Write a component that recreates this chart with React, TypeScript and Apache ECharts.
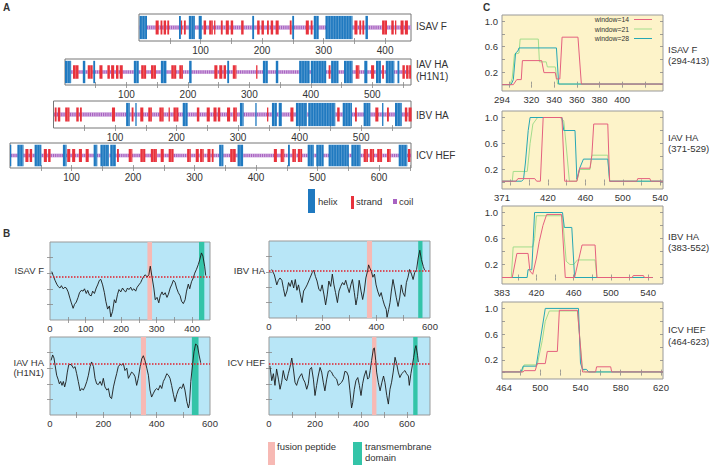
import React, { useEffect, useRef } from "react";
import * as echarts from "echarts";

const FONT = "'Liberation Sans', Arial, Helvetica, sans-serif";

// ---------------- Panel A: secondary structure ----------------
const ssNames = ["ISAV F", "IAV HA", "IBV HA", "ICV HEF"];
const ssLengths = [442, 563, 581, 652];
const ssTickLabels = [
  [100, 200, 300, 400],
  [100, 200, 300, 400, 500],
  [100, 200, 300, 400, 500],
  [100, 200, 300, 400, 500, 600],
];
const ssTicks = [
  [50, 100, 150, 200, 250, 300, 350, 400],
  [50, 100, 150, 200, 250, 300, 350, 400, 450, 500, 550],
  [50, 100, 150, 200, 250, 300, 350, 400, 450, 500, 550],
  [50, 100, 150, 200, 250, 300, 350, 400, 450, 500, 550, 600, 650],
];
const isavHelix = [[1, 13], [65, 68], [81, 91], [97, 102], [184, 187], [249, 252], [284, 292], [303, 347], [368, 372]];
const isavStrand = [[27, 32], [35, 38], [40, 44], [46, 49], [68, 70], [73, 76], [105, 109], [114, 120], [122, 124], [133, 136], [141, 146], [149, 153], [166, 170], [192, 196], [199, 203], [208, 211], [214, 218], [222, 227], [245, 248], [271, 276], [279, 282], [350, 355], [358, 361], [363, 366], [395, 403], [410, 414], [416, 418], [425, 430], [432, 437]];
const iavHelix = [[0, 10], [29, 33], [46, 49], [112, 120], [156, 165], [202, 206], [264, 267], [322, 330], [343, 347], [381, 398], [400, 425], [433, 445], [454, 468], [487, 492], [506, 514], [522, 536], [541, 544]];
const iavStrand = [[13, 22], [37, 45], [56, 61], [69, 73], [75, 80], [83, 87], [89, 94], [124, 132], [140, 148], [173, 181], [186, 192], [243, 248], [251, 256], [258, 262], [273, 279], [311, 313], [429, 432], [473, 479], [498, 503], [516, 519], [549, 553], [555, 559], [560, 563]];
const ibvHelix = [[118, 124], [133, 135], [210, 218], [303, 309], [328, 330], [355, 363], [366, 371], [394, 412], [414, 458], [470, 485], [504, 515], [534, 536], [555, 566]];
const ibvStrand = [[2, 5], [7, 11], [19, 26], [37, 41], [43, 46], [95, 100], [127, 130], [141, 146], [154, 160], [172, 179], [187, 189], [195, 203], [233, 237], [249, 254], [260, 265], [267, 271], [282, 287], [292, 298], [347, 349], [385, 390], [461, 465], [490, 493], [523, 528], [542, 545], [571, 575], [577, 582]];
const icvHelix = [[0, 2], [12, 22], [40, 51], [86, 92], [136, 142], [147, 161], [163, 172], [340, 347], [370, 379], [452, 455], [484, 494], [498, 510], [518, 551], [555, 570], [632, 646]];
const icvStrand = [[25, 30], [32, 36], [55, 60], [62, 66], [93, 98], [101, 106], [112, 117], [123, 128], [174, 177], [193, 199], [212, 220], [229, 239], [245, 250], [258, 266], [288, 294], [302, 307], [309, 315], [321, 326], [328, 331], [358, 367], [429, 434], [440, 446], [459, 465], [468, 475], [575, 582], [585, 592], [597, 605], [613, 619], [647, 651]];
const ssHelix = [isavHelix, iavHelix, ibvHelix, icvHelix];
const ssStrand = [isavStrand, iavStrand, ibvStrand, icvStrand];

// ---------------- Panel B: hydrophobicity ----------------
const isavHydro = [[5, 62], [9, 57], [14, 51], [19, 46], [23, 43], [28, 41], [32, 44], [37, 40], [42, 42], [46, 41], [51, 36], [56, 28], [60, 22], [65, 15], [69, 20], [74, 23], [79, 29], [83, 35], [88, 38], [93, 37], [97, 40], [102, 34], [106, 38], [111, 32], [116, 31], [120, 37], [125, 34], [130, 41], [134, 45], [139, 51], [143, 52], [148, 45], [153, 35], [157, 24], [162, 14], [167, 18], [171, 4], [176, 11], [181, 26], [185, 22], [190, 33], [194, 39], [199, 36], [204, 41], [208, 38], [213, 36], [218, 41], [222, 39], [227, 42], [231, 38], [236, 40], [241, 37], [245, 42], [250, 45], [255, 48], [259, 52], [264, 56], [268, 58], [273, 55], [278, 58], [282, 69], [287, 55], [292, 41], [296, 26], [301, 29], [306, 22], [310, 31], [315, 36], [319, 32], [324, 35], [329, 29], [333, 33], [338, 41], [343, 46], [347, 51], [352, 48], [356, 41], [361, 35], [366, 31], [370, 24], [375, 21], [380, 26], [384, 37], [389, 46], [393, 40], [398, 49], [403, 54], [407, 60], [412, 65], [417, 71], [421, 77], [426, 86], [430, 82], [435, 69], [438, 57]];
const ibvHydro = [[10, 63], [20, 56], [29, 43], [35, 49], [41, 52], [48, 49], [54, 38], [60, 28], [67, 35], [73, 46], [79, 41], [85, 49], [92, 39], [98, 50], [104, 36], [110, 43], [117, 30], [123, 20], [129, 35], [136, 39], [142, 43], [148, 48], [154, 53], [161, 59], [167, 62], [173, 54], [179, 48], [186, 37], [192, 35], [198, 43], [205, 30], [211, 17], [217, 30], [223, 48], [230, 41], [236, 57], [242, 43], [248, 33], [255, 20], [261, 35], [267, 41], [274, 46], [280, 43], [286, 49], [292, 41], [299, 33], [305, 43], [311, 50], [318, 33], [324, 17], [330, 28], [336, 49], [343, 35], [349, 24], [355, 35], [361, 52], [368, 62], [371, 69], [377, 64], [382, 60], [387, 53], [393, 57], [399, 43], [405, 35], [412, 28], [418, 33], [424, 24], [430, 17], [437, 11], [440, 1], [446, 11], [451, 20], [456, 35], [462, 50], [468, 39], [474, 27], [481, 15], [487, 26], [493, 43], [499, 33], [506, 28], [512, 46], [518, 53], [524, 63], [531, 57], [537, 50], [543, 59], [550, 63], [556, 78], [562, 88], [568, 76], [575, 67], [580, 62]];
const iavHydro = [[4, 70], [10, 77], [15, 73], [19, 64], [25, 51], [31, 45], [35, 40], [40, 43], [45, 38], [50, 43], [55, 36], [60, 43], [65, 55], [70, 64], [75, 65], [81, 64], [88, 60], [94, 62], [100, 53], [106, 43], [113, 31], [119, 34], [125, 32], [131, 36], [138, 43], [144, 51], [150, 62], [156, 68], [163, 62], [169, 47], [175, 40], [181, 39], [188, 43], [194, 38], [200, 47], [206, 36], [213, 32], [219, 34], [225, 23], [231, 21], [238, 36], [244, 45], [250, 53], [256, 62], [263, 65], [269, 64], [275, 66], [281, 57], [288, 60], [294, 47], [300, 51], [306, 55], [313, 53], [319, 49], [325, 38], [331, 47], [338, 62], [344, 72], [350, 76], [356, 70], [363, 60], [369, 51], [375, 32], [381, 23], [388, 28], [394, 32], [400, 34], [406, 32], [413, 38], [419, 34], [425, 43], [431, 47], [438, 53], [444, 51], [450, 47], [456, 38], [463, 26], [469, 17], [475, 26], [481, 32], [488, 36], [494, 34], [500, 40], [506, 32], [513, 17], [519, 9], [523, 15], [528, 43], [535, 66], [540, 81], [546, 91], [553, 89], [559, 77], [565, 67]];
const icvHydro = [[4, 63], [12, 44], [19, 53], [26, 38], [33, 59], [41, 46], [48, 33], [55, 42], [62, 57], [70, 46], [77, 44], [84, 53], [91, 61], [99, 73], [106, 59], [113, 42], [120, 38], [128, 46], [135, 50], [142, 53], [149, 46], [156, 42], [164, 33], [171, 40], [178, 59], [185, 61], [193, 46], [200, 25], [207, 38], [214, 50], [222, 61], [229, 55], [236, 42], [243, 31], [251, 46], [258, 56], [265, 57], [272, 55], [280, 50], [287, 48], [294, 46], [301, 38], [309, 40], [316, 42], [323, 46], [330, 56], [338, 55], [345, 50], [352, 31], [359, 9], [364, 16], [371, 33], [378, 44], [386, 48], [393, 38], [400, 25], [407, 40], [414, 50], [422, 57], [429, 46], [435, 48], [440, 57], [446, 70], [454, 85], [458, 86], [464, 70], [468, 55], [475, 42], [483, 31], [491, 42], [498, 50], [504, 42], [512, 25], [519, 14], [526, 33], [533, 42], [540, 55], [548, 74], [555, 66], [562, 55], [569, 48], [577, 53], [584, 55], [591, 57], [598, 53], [606, 50], [610, 38], [617, 53], [623, 63], [629, 74], [635, 85], [639, 89], [646, 76], [649, 68]];
const hydroNames = ["ISAV F", "IBV HA", "IAV HA", "ICV HEF"];
const hydroSeries = [isavHydro, ibvHydro, iavHydro, icvHydro];
const hydroMax = [450, 600, 600, 700];
const hydroThreshold = [55, 62, 66, 66];
const fusionPeptide = [[274, 287], [365, 384], [341, 360], [448, 467]];
const transmembrane = [[419, 434], [556, 572], [532, 557], [627, 646]];
const hydroTickLabels = [[0, 100, 200, 300, 400], [0, 200, 400, 600], [0, 200, 400, 600], [0, 200, 400, 600]];
const hydroTicks = [
  [50, 100, 150, 200, 250, 300, 350, 400],
  [100, 200, 300, 400, 500],
  [100, 200, 300, 400, 500],
  [100, 200, 300, 400, 500, 600],
];

// ---------------- Panel C: window plots ----------------
const windowNames = ["window=14", "window=21", "window=28"];
const cTitles = [["ISAV F", "(294-413)"], ["IAV HA", "(371-529)"], ["IBV HA", "(383-552)"], ["ICV HEF", "(464-623)"]];
const cRanges = [[294, 436], [371, 543], [383, 556], [462, 622]];
const cTickLabels = [[294, 320, 340, 360, 380, 400], [371, 420, 460, 500, 540], [383, 420, 460, 500, 540], [464, 500, 540, 580, 620]];
const cTicks = [[300, 320, 340, 360, 380, 400, 420], [380, 400, 420, 440, 460, 480, 500, 520, 540], [400, 420, 440, 460, 480, 500, 520, 540], [480, 500, 520, 540, 560, 580, 600, 620]];
const cYLabels = [0.2, 0.6, 1.0];
const cYTicks = [0, 0.2, 0.4, 0.6, 0.8, 1.0];
const cIsav14 = [[294, 0], [304, 0], [307, 0.08], [311, 0.08], [312, 0.38], [329, 0.38], [331, 0.19], [341, 0.19], [342, 0.09], [345, 0.09], [347, 0.75], [361, 0.75], [364, 0.01], [436, 0.01]];
const cIsav21 = [[294, 0], [301, 0], [303, 0.1], [305, 0.48], [309, 0.5], [310, 0.72], [326, 0.72], [327, 0.36], [333, 0.36], [334, 0.28], [341, 0.28], [343, 0.01], [436, 0.01]];
const cIsav28 = [[294, 0], [302, 0], [304, 0.08], [306, 0.5], [308, 0.53], [309, 0.58], [342, 0.58], [344, 0.01], [436, 0.01]];
const cIav14 = [[371, 0.02], [386, 0.02], [388, 0.06], [406, 0.06], [408, 0.02], [412, 0.02], [415, 1.0], [435, 1.0], [438, 0.02], [451, 0.02], [454, 0.22], [465, 0.22], [467, 0.42], [469, 0.9], [484, 0.9], [486, 0.02], [515, 0.02], [516, 0.06], [529, 0.06], [530, 0.02], [543, 0.02]];
const cIav21 = [[371, 0.02], [382, 0.02], [383, 0.17], [398, 0.17], [401, 0.6], [404, 0.9], [409, 1.0], [433, 1.0], [437, 0.95], [440, 0.5], [443, 0.02], [451, 0.02], [454, 0.2], [465, 0.2], [467, 0.42], [484, 0.42], [486, 0.02], [543, 0.02]];
const cIav28 = [[371, 0.02], [392, 0.02], [394, 0.05], [396, 0.3], [399, 0.8], [401, 1.0], [435, 1.0], [437, 0.8], [449, 0.8], [451, 0.05], [454, 0.22], [458, 0.36], [484, 0.36], [486, 0.02], [543, 0.02]];
const cIbv14 = [[383, 0], [394, 0], [399, 0.37], [411, 0.37], [413, 0.1], [416, 0.05], [420, 0.3], [423, 0.55], [427, 0.8], [431, 0.97], [447, 0.97], [451, 0], [461, 0], [469, 0.5], [483, 0.5], [485, 0], [523, 0], [524, 0.03], [535, 0.03], [536, 0], [545, 0]];
const cIbv21 = [[383, 0], [393, 0], [395, 0.47], [416, 0.47], [418, 0.6], [420, 0.95], [448, 0.95], [452, 0.25], [456, 0.2], [460, 0.2], [464, 0.27], [483, 0.27], [485, 0], [545, 0]];
const cIbv28 = [[383, 0], [410, 0], [411, 0.12], [415, 0.12], [418, 1.0], [448, 1.0], [450, 0.77], [458, 0.77], [461, 0], [545, 0]];
const cIcv14 = [[462, 0.01], [483, 0.01], [484, 0.03], [495, 0.03], [497, 0.14], [505, 0.14], [507, 0.33], [517, 0.33], [519, 0.97], [537, 0.97], [542, 0.01], [555, 0.01], [556, 0.09], [570, 0.09], [571, 0.01], [622, 0.01]];
const cIcv21 = [[462, 0.01], [482, 0.01], [484, 0.12], [497, 0.12], [502, 0.5], [505, 0.8], [509, 0.96], [537, 0.96], [542, 0.05], [545, 0.01], [622, 0.01]];
const cIcv28 = [[462, 0.01], [481, 0.01], [483, 0.1], [496, 0.1], [498, 0.3], [505, 1.0], [538, 1.0], [540, 0.15], [542, 0.05], [546, 0.05], [548, 0.01], [622, 0.01]];
const cSeries = [[cIsav14, cIsav21, cIsav28], [cIav14, cIav21, cIav28], [cIbv14, cIbv21, cIbv28], [cIcv14, cIcv21, cIcv28]];

// ---------------- styling / layout ----------------
const HELIX = "#1f79c0";
const STRAND = "#e8323c";
const COIL = "#a862c2";
const B_BG = "#b8e6f7";
const PINK = "#f7b9b4";
const TEAL = "#33c4a8";
const C_BG = "#fdf3c9";
const WIN_COLORS = ["#e4607e", "#a3dc8c", "#27a7b4"];
const TXT = "#333";

const aBoxes = [
  { l: 139, t: 14, w: 272, h: 27 },
  { l: 65, t: 59, w: 346, h: 26 },
  { l: 53.5, t: 101, w: 357.5, h: 27 },
  { l: 10, t: 143, w: 401, h: 25 },
];
const bBoxes = [
  { l: 50, t: 242, w: 160, h: 78 },
  { l: 269, t: 241, w: 161, h: 77 },
  { l: 50, t: 337, w: 160, h: 78 },
  { l: 269, t: 337, w: 161, h: 78 },
];
const cBoxes = [
  { l: 502, t: 15, w: 161, h: 76 },
  { l: 502, t: 111, w: 161, h: 78 },
  { l: 502, t: 206, w: 161, h: 78 },
  { l: 502, t: 302, w: 161, h: 77 },
];

function buildOption() {
  const grids: any[] = [];
  const xAxes: any[] = [];
  const yAxes: any[] = [];
  const series: any[] = [];

  const tickStyle = { show: true, inside: true, length: 3, lineStyle: { color: "#888", width: 0.8 } };
  const lbl = (size: number) => ({ fontSize: size, color: TXT, fontFamily: FONT });

  function addGrid(box: any, bg: string, border: string, x: any, y: any) {
    const gi = grids.length;
    grids.push({
      left: box.l, top: box.t, width: box.w, height: box.h, show: true,
      backgroundColor: bg, borderColor: border, borderWidth: 1, containLabel: false, outerBoundsMode: "none",
    });
    const xi = xAxes.length;
    xAxes.push({
      gridIndex: gi, type: "value", position: "bottom", min: x.min, max: x.max,
      axisLine: { show: false }, splitLine: { show: false },
      axisTick: { ...tickStyle, customValues: x.ticks },
      axisLabel: { show: true, customValues: x.labels, margin: x.margin, ...lbl(x.size) },
    });
    xAxes.push({
      gridIndex: gi, type: "value", position: "top", min: x.min, max: x.max,
      axisLine: { show: false }, splitLine: { show: false },
      axisTick: { ...tickStyle, customValues: x.ticks }, axisLabel: { show: false },
    });
    const yi = yAxes.length;
    yAxes.push({
      gridIndex: gi, type: "value", position: "left", min: y.min, max: y.max,
      axisLine: { show: false }, splitLine: { show: false },
      axisTick: y.ticks ? { ...tickStyle, customValues: y.ticks } : { show: false },
      axisLabel: y.labels ? { show: true, customValues: y.labels, margin: 4, formatter: (v: number) => v.toFixed(1), ...lbl(9.5) } : { show: false },
    });
    yAxes.push({
      gridIndex: gi, type: "value", position: "right", min: y.min, max: y.max,
      axisLine: { show: false }, splitLine: { show: false },
      axisTick: y.ticks ? { ...tickStyle, customValues: y.ticks } : { show: false },
      axisLabel: { show: false },
    });
    return { xi, yi };
  }

  // ---- Panel A
  const ssRender = (kind: string) => (params: any, api: any) => {
    const s = api.value(0);
    const e = api.value(1);
    const yr = kind === "helix" ? [0.93, 0.07] : kind === "strand" ? [0.76, 0.24] : [0.57, 0.43];
    const p1 = api.coord([s, yr[0]]);
    const p2 = api.coord([e, yr[1]]);
    const x = p1[0];
    const y = p1[1];
    const w = Math.max(p2[0] - p1[0], 1.3);
    const h = p2[1] - p1[1];
    const color = kind === "helix" ? HELIX : kind === "strand" ? STRAND : COIL;
    const children: any[] = [{ type: "rect", shape: { x, y, width: w, height: h }, style: { fill: color } }];
    const step = kind === "coil" ? 2.2 : 2.6;
    const stroke = kind === "coil" ? "rgba(255,255,255,0.75)" : "rgba(255,255,255,0.35)";
    for (let sx = x + step; sx < x + w - 0.6; sx += step) {
      children.push({ type: "line", shape: { x1: sx, y1: y, x2: sx, y2: y + h }, style: { stroke, lineWidth: 0.7 } });
    }
    return { type: "group", children };
  };

  ssNames.forEach((name, i) => {
    const { xi, yi } = addGrid(aBoxes[i], "#ffffff", "#777",
      { min: 0, max: ssLengths[i], ticks: ssTicks[i], labels: ssTickLabels[i], margin: 4, size: 10 },
      { min: 0, max: 1 });
    const mk = (kind: string, data: number[][], z: number) => ({
      type: "custom", name: name + " " + kind, xAxisIndex: xi, yAxisIndex: yi, silent: true, z,
      renderItem: ssRender(kind), encode: { x: [0, 1], y: 2 },
      data: data.map((d) => [d[0], d[1], 0.5]),
    });
    series.push(mk("coil", [[1, ssLengths[i]]], 2));
    series.push(mk("strand", ssStrand[i], 3));
    series.push(mk("helix", ssHelix[i], 4));
  });

  // ---- Panel B
  hydroNames.forEach((name, i) => {
    const { xi, yi } = addGrid(bBoxes[i], B_BG, "#999",
      { min: 0, max: hydroMax[i], ticks: hydroTicks[i], labels: hydroTickLabels[i], margin: 3, size: 9.5 },
      { min: 0, max: 100, ticks: [20, 40, 60, 80] });
    series.push({
      type: "line", name: name + " hydrophobicity", xAxisIndex: xi, yAxisIndex: yi, silent: true, z: 3,
      data: hydroSeries[i], showSymbol: false, symbol: "none",
      lineStyle: { color: "#1a1a1a", width: 0.9 },
      markArea: {
        silent: true,
        data: [
          [{ xAxis: fusionPeptide[i][0], itemStyle: { color: PINK } }, { xAxis: fusionPeptide[i][1] }],
          [{ xAxis: transmembrane[i][0], itemStyle: { color: TEAL } }, { xAxis: transmembrane[i][1] }],
        ],
      },
      markLine: {
        silent: true, symbol: "none", label: { show: false },
        lineStyle: { color: "#e0202c", type: [1.5, 1.5], width: 1.5 },
        data: [{ yAxis: hydroThreshold[i] }],
      },
    });
  });

  // ---- Panel C
  cTitles.forEach((t, i) => {
    const { xi, yi } = addGrid(cBoxes[i], C_BG, "#999",
      { min: cRanges[i][0], max: cRanges[i][1], ticks: cTicks[i], labels: cTickLabels[i], margin: 3, size: 9.5 },
      { min: -0.1, max: 1.1, ticks: cYTicks, labels: cYLabels });
    windowNames.forEach((wn, k) => {
      series.push({
        type: "line", name: wn, xAxisIndex: xi, yAxisIndex: yi, silent: true, z: 3 + (k === 0 ? 2 : k === 2 ? 1 : 0),
        data: cSeries[i][k], showSymbol: false, symbol: "none",
        lineStyle: { color: WIN_COLORS[k], width: 1 }, itemStyle: { color: WIN_COLORS[k] },
      });
    });
  });

  const txt = (text: string, x: number, y: number, size: number, align = "left", bold = false) => ({
    type: "text", x, y, silent: true,
    style: { text, fontSize: size, fontFamily: FONT, fill: TXT, align, verticalAlign: "middle", fontWeight: bold ? "bold" : "normal" },
  });
  const rect = (x: number, y: number, w: number, h: number, fill: string) => ({
    type: "rect", silent: true, shape: { x, y, width: w, height: h }, style: { fill },
  });

  const graphic: any[] = [
    txt("A", 3, 7, 10, "left", true),
    txt("B", 3, 233, 10, "left", true),
    txt("C", 483, 7, 10, "left", true),
    // Panel A names
    txt("ISAV F", 416, 26, 10),
    txt("IAV HA", 416, 64, 10),
    txt("(H1N1)", 416, 76.5, 10),
    txt("IBV HA", 416, 115, 10),
    txt("ICV HEF", 416, 155.5, 10),
    // Panel A legend
    rect(308, 189, 7, 24, HELIX),
    txt("helix", 318, 201, 9.5),
    rect(351, 196, 3, 13, STRAND),
    txt("strand", 356, 201, 9.5),
    rect(393, 199, 4, 5, COIL),
    txt("coil", 399, 201, 9.5),
    // Panel B names
    txt("ISAV F", 44, 270, 9.5, "right"),
    txt("IBV HA", 265, 270, 9.5, "right"),
    txt("IAV HA", 44, 362, 9.5, "right"),
    txt("(H1N1)", 44, 372, 9.5, "right"),
    txt("ICV HEF", 265, 362, 9.5, "right"),
    // Panel B legend
    rect(268, 442, 7, 23, PINK),
    txt("fusion peptide", 277, 446, 9.5),
    rect(353, 442, 9, 23, TEAL),
    txt("transmembrane", 365, 446, 9.5),
    txt("domain", 365, 457.5, 9.5),
  ];
  const cNameY = [[49.5, 60.5], [137.5, 148.5], [236, 247.5], [329.5, 341]];
  cTitles.forEach((t, i) => {
    graphic.push(txt(t[0], 668, cNameY[i][0], 9.5));
    graphic.push(txt(t[1], 668, cNameY[i][1], 9.5));
  });

  return {
    animation: false,
    backgroundColor: "#ffffff",
    textStyle: { fontFamily: FONT },
    grid: grids,
    xAxis: xAxes,
    yAxis: yAxes,
    series,
    legend: {
      show: true, data: windowNames, orient: "vertical", right: 59, top: 16, align: "right",
      icon: "rect", itemWidth: 18, itemHeight: 1, itemGap: 2.5, padding: 0, selectedMode: false,
      textStyle: { fontSize: 6.8, color: TXT, fontFamily: FONT },
    },
    graphic,
  };
}

export default function App() {
  const ref = useRef<HTMLDivElement>(null);
  useEffect(() => {
    if (!ref.current) return;
    const chart = echarts.init(ref.current, undefined, { renderer: "svg" });
    chart.setOption(buildOption() as any);
    return () => chart.dispose();
  }, []);
  return (
    <div
      ref={ref}
      style={{ position: "fixed", left: 0, top: 0, width: 711, height: 465, background: "#fff" }}
    />
  );
}
